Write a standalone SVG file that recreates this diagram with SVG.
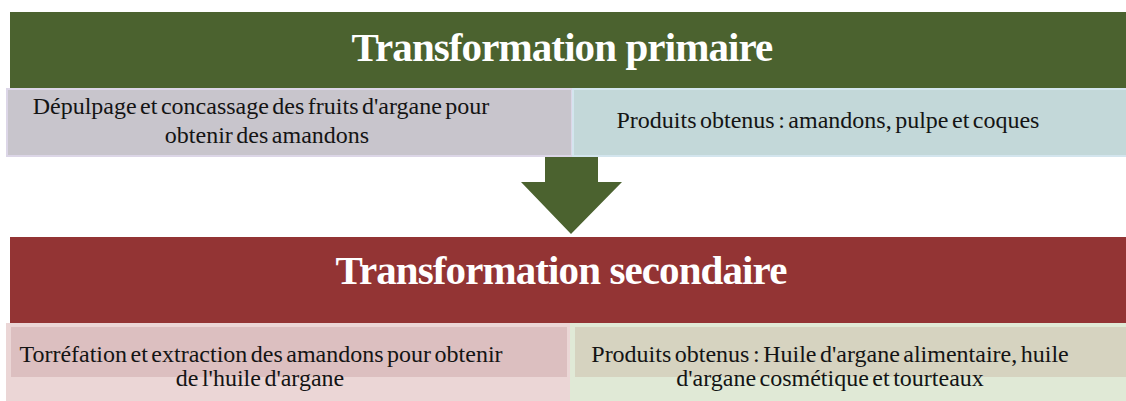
<svg xmlns="http://www.w3.org/2000/svg" width="1126" height="401" viewBox="0 0 1126 401">
<style>
.title{font-family:"Liberation Serif","Times New Roman",serif;font-weight:bold;font-size:41px;letter-spacing:-0.9px;fill:#ffffff;text-anchor:middle}
.body{font-family:"Liberation Serif","Times New Roman",serif;font-size:24px;word-spacing:-2.5px;fill:#141414;text-anchor:middle}
</style>
<rect width="1126" height="401" fill="#ffffff"/>
<g id="primaire">
<rect x="10" y="12" width="1116" height="77" fill="#4b622f"/>
<text class="title" x="562" y="61">Transformation primaire</text>
</g>
<g id="depulpage">
<rect x="7" y="89" width="565" height="67" fill="#c8c5cc" stroke="#dcd6e7" stroke-width="2"/>
<text class="body" x="261" y="114">Dépulpage et concassage des fruits d'argane pour</text>
<text class="body" x="267" y="143">obtenir des amandons</text>
</g>
<g id="produits1">
<rect x="573" y="89" width="554" height="67" fill="#c3d8d9" stroke="#d3e5ee" stroke-width="2"/>
<text class="body" x="828" y="128">Produits obtenus : amandons, pulpe et coques</text>
</g>
<g id="connectors">
<polygon points="545,157 598,157 598,182 622,182 571,234 521,182 545,182" fill="#4b622f"/>
</g>
<g id="secondaire">
<rect x="10" y="237" width="1116" height="86" fill="#933434"/>
<text class="title" x="561" y="284">Transformation secondaire</text>
</g>
<g id="torrefaction">
<rect x="6" y="323" width="564" height="78" fill="#ebd6d6"/>
<rect x="11" y="327" width="556" height="50" fill="#dcbfc0"/>
<text class="body" x="261" y="362">Torréfation et extraction des amandons pour obtenir</text>
<text class="body" x="260" y="386">de l'huile d'argane</text>
</g>
<g id="produits2">
<rect x="570" y="323" width="556" height="78" fill="#e0e9d6"/>
<rect x="575" y="327" width="551" height="50" fill="#d6d3c0"/>
<text class="body" x="830" y="362">Produits obtenus : Huile d'argane alimentaire, huile</text>
<text class="body" x="830" y="386">d'argane cosmétique et tourteaux</text>
</g>
</svg>
